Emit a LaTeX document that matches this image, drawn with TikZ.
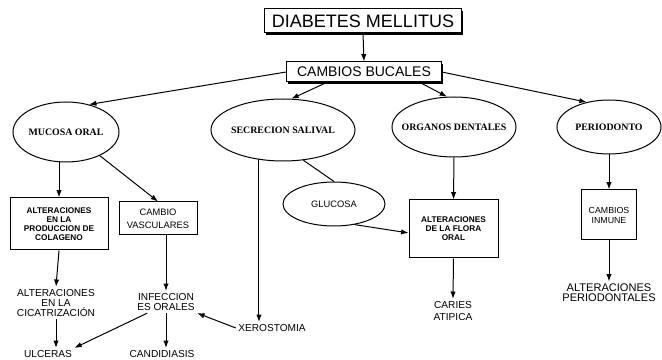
\documentclass[tikz,border=0pt]{standalone}
\usepackage{fontspec}
\setmainfont{Liberation Sans}
\newfontfamily\ovalfamily{Liberation Serif}
\usetikzlibrary{arrows.meta,shapes.geometric,shadows,calc}

\newcommand{\ovaltext}[1]{\makebox[0pt]{#1}}

\tikzset{every picture/.style={line width=0.75pt}}
\tikzset{
  titlebox/.style={draw, fill=white, inner sep=0pt,
    drop shadow={shadow xshift=1.2pt, shadow yshift=-1.2pt, opacity=1, fill=black}},
  bubble/.style={draw, ellipse, inner sep=0pt,
    font=\ovalfamily\bfseries\fontsize{7.4}{8}\selectfont},
  smallbox/.style={draw, inner sep=0pt, align=center,
    font=\bfseries\fontsize{6.2}{6.8}\selectfont},
  plaintext/.style={inner sep=1.5pt, align=center,
    font=\fontsize{7.6}{7.6}\selectfont},
  link/.style={-{Latex[length=5.5pt,width=4pt]}},
}

\begin{document}
\begin{tikzpicture}[x=0.75pt,y=0.75pt,yscale=-1,xscale=1]
%set diagram left start at 0, and has height of 360
\useasboundingbox (0,0) rectangle (662,360);

% Text Node
\node[titlebox, minimum width=148pt, minimum height=18pt, font=\fontsize{13.5}{16}\selectfont] (dm) at (363,21) {DIABETES MELLITUS};
% Text Node
\node[titlebox, minimum width=116pt, minimum height=15pt, font=\fontsize{10.5}{12}\selectfont] (cb) at (364,72) {CAMBIOS BUCALES};

%Shape: Ellipse
\node[bubble, minimum width=79.5pt, minimum height=45pt] (muc) at (66,132) {\ovaltext{MUCOSA ORAL}};
%Shape: Ellipse
\node[bubble, minimum width=108pt, minimum height=46.5pt] (sec) at (283,130) {\ovaltext{SECRECION SALIVAL}};
%Shape: Ellipse
\node[bubble, minimum width=93pt, minimum height=45pt] (org) at (454,127) {\ovaltext{ORGANOS DENTALES}};
%Shape: Ellipse
\node[bubble, minimum width=78pt, minimum height=40.5pt] (per) at (609,127) {\ovaltext{PERIODONTO}};
%Shape: Ellipse
\node[bubble, minimum width=76.5pt, minimum height=33pt, font=\fontsize{7}{8}\selectfont] (glu) at (334,204) {\ovaltext{GLUCOSA}};

%Shape: Rectangle
\node[smallbox, minimum width=73.5pt, minimum height=39pt] (prod) at (59,224) {ALTERACIONES\\EN LA\\PRODUCCION DE\\COLAGENO};
%Shape: Rectangle
\node[smallbox, minimum width=58.5pt, minimum height=24.75pt, font=\fontsize{7}{8}\selectfont] (vasc) at (158,218.5) {CAMBIO\\[1.5pt]VASCULARES};
%Shape: Rectangle
\node[smallbox, minimum width=66.75pt, minimum height=43.5pt] (flora) at (453.5,229) {ALTERACIONES\\DE LA FLORA\\ORAL};
%Shape: Rectangle
\node[smallbox, minimum width=41.25pt, minimum height=37.5pt, font=\fontsize{6.6}{7.5}\selectfont] (inm) at (609,215) {CAMBIOS\\INMUNE};

% Text Node
\node[plaintext] (cic) at (56,303) {ALTERACIONES\\EN LA\\CICATRIZACIÓN};
% Text Node
\node[plaintext] (ulc) at (48,354) {ULCERAS};
% Text Node
\node[plaintext] (inf) at (166,302) {INFECCION\\ES ORALES};
% Text Node
\node[plaintext] (can) at (162,354) {CANDIDIASIS};
% Text Node
\node[plaintext] (xer) at (272,328) {XEROSTOMIA};
% Text Node
\node[plaintext] (car) at (453,311) {CARIES\\[1.5pt]ATIPICA};
% Text Node
\node[plaintext, font=\fontsize{8.3}{7.6}\selectfont] (pdt) at (609,293) {ALTERACIONES\\PERIODONTALES};

%Straight Lines
\draw[link] (dm.south) -- (cb.north);
\draw[link] (cb.west) -- (muc.50);
\draw[link] ($(cb.south west)!0.26!(cb.south east)$) -- (sec.75);
\draw[link] ($(cb.south west)!0.86!(cb.south east)$) -- (org.103);
\draw[link] (cb.east) -- (per.132);

%Straight Lines
\draw[link] (prod.north |- muc.south) -- (prod.north);
\draw[link] (muc.-35) -- (vasc.north);
\draw[link] (prod.south) -- (cic.north);
\draw[link] (cic.south) -- (cic.south |- ulc.north);
\draw[link] (inf.north |- vasc.south) -- (inf.north);
\draw[link] ($(inf.south west)!0.2!(inf.south east)$) -- (ulc.north east);
\draw[link] (inf.south) -- (inf.south |- can.north);
\draw[link] (xer.west) -- (inf.south east);

%Straight Lines
\coordinate (xtop) at ($(xer.north west)!0.32!(xer.north east)$);
\draw[link, shorten <=-1.5pt] (xtop |- sec.south) -- (xtop);
\draw (sec.-56) -- (glu.north);
\draw[link] (glu.-45) -- (flora.185);
\draw[link] (org.south) -- (flora.north);
\draw[link] (flora.south) -- (car.north);
\draw[link] (per.south) -- (inm.north);
\draw[link] (inm.south) -- (pdt.north);

\end{tikzpicture}
\end{document}
